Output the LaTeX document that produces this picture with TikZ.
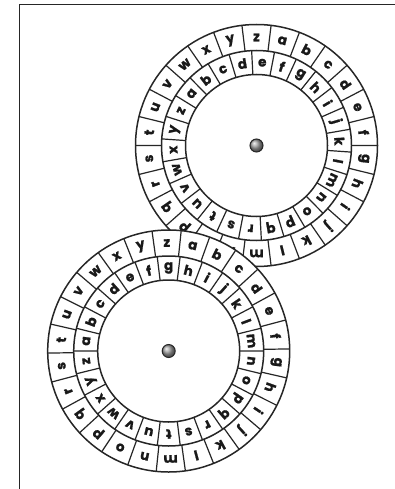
\documentclass[tikz,border=0pt]{standalone}
\usepackage{fontspec}
\newfontfamily\wheelfont{Poppins}[BoldFeatures={FakeBold=1.2}]
\tikzset{
  ring/.style={draw=black!85, line width=1.5pt},
  lettr/.style={inner sep=0pt, text=black!90, font=\wheelfont\bfseries\fontsize{13.5}{13.5}\selectfont},
  hub/.style={circle, draw=black!85, line width=1pt, minimum size=13pt, inner sep=0pt, ball color=gray!75},
  frameline/.style={draw=black!85, line width=1.3pt}
}
% #1 name, #2 outer angle of z, #3 inner angle of a
\newcommand\mywheel[3]{%
  \fill[white] (#1) circle (121);
  \draw[ring] (#1) circle (121);
  \draw[ring] (#1) circle (95);
  \draw[ring] (#1) circle (71);
  \foreach \j in {0,...,25}{%
    \pgfmathsetmacro\da{#2+6.923+13.846*\j}
    \pgfmathsetmacro\db{#3+6.923+13.846*\j}
    \draw[ring, line width=1.2pt] ([shift={(\da:95)}]#1) -- ([shift={(\da:121)}]#1);
    \draw[ring, line width=1.2pt] ([shift={(\db:71)}]#1) -- ([shift={(\db:95)}]#1);
  }
  \foreach \l [count=\i from 0] in {a,b,c,d,e,f,g,h,i,j,k,l,m,n,o,p,q,r,s,t,u,v,w,x,y,z}{%
    \pgfmathsetmacro\oa{#2-13.846*(\i+1)}
    \pgfmathsetmacro\ia{#3-13.846*\i}
    \pgfmathsetmacro\orot{\oa-90}
    \pgfmathsetmacro\irot{\ia-90}
    \node[lettr, rotate=\orot] (#1-o-\l) at ([shift={(\oa:108)}]#1) {\l};
    \node[lettr, rotate=\irot] (#1-i-\l) at ([shift={(\ia:83)}]#1) {\l};
  }
  \node[hub] (#1-hub) at (#1) {};
}
\begin{document}
\begin{tikzpicture}[x=1pt,y=1pt]
\useasboundingbox (0,0) rectangle (395,-489);
\draw[frameline] (395,-4.5) -- (19.5,-4.5) -- (19.5,-489);
\coordinate (T) at (256.5,-145.5);
\coordinate (B) at (168.7,-351);
\mywheel{T}{90}{141.4}
\mywheel{B}{91}{173.1}
\end{tikzpicture}
\end{document}
